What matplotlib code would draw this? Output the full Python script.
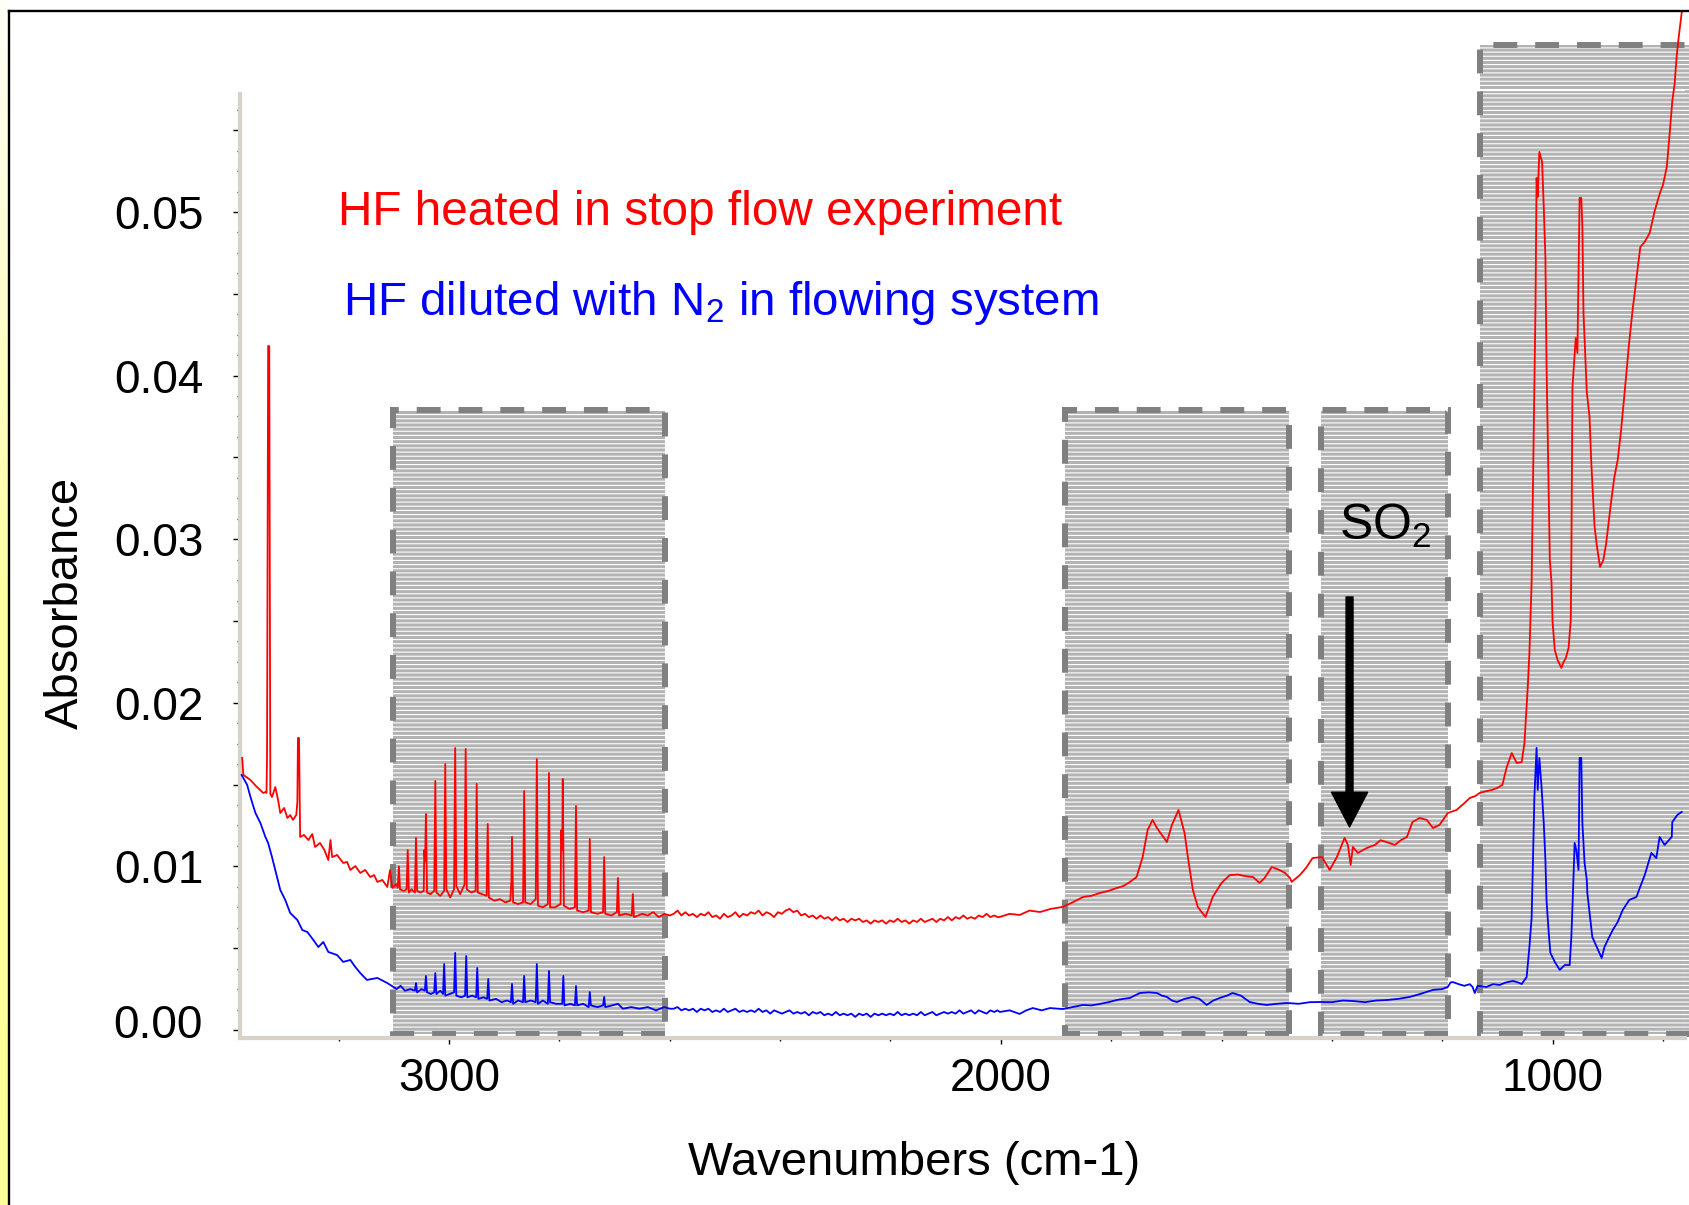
import matplotlib
matplotlib.use("Agg")
import matplotlib.pyplot as plt
import numpy as np
from matplotlib.patches import Rectangle
from matplotlib.lines import Line2D
from matplotlib.ticker import FixedLocator, FuncFormatter
from matplotlib.colors import LinearSegmentedColormap

plt.rcParams['font.family'] = ['Liberation Sans', 'DejaVu Sans']
plt.rcParams['mathtext.fontset'] = 'custom'
plt.rcParams['mathtext.rm'] = 'Liberation Sans'
plt.rcParams['mathtext.it'] = 'Liberation Sans:italic'
plt.rcParams['hatch.linewidth'] = 0.8

# ---- spectra: (wavenumber cm-1, absorbance) ----
red_start = [
    (3375, 0.01663), (3373, 0.01559), (3360, 0.01528), (3350, 0.01491), (3337, 0.01449),
    (3332, 0.01455), (3331, 0.01449), (3330, 0.01669), (3328, 0.04181), (3326, 0.04180),
    (3324, 0.01443), (3321, 0.01424), (3315, 0.01485), (3310, 0.01406), (3306, 0.01326),
    (3299, 0.01357), (3293, 0.01296), (3288, 0.01314), (3283, 0.01284), (3277, 0.01314),
    (3275, 0.01394), (3274, 0.01785), (3272, 0.01785), (3270, 0.01180), (3263, 0.01192),
    (3255, 0.01161), (3248, 0.01198), (3243, 0.01119), (3234, 0.01143), (3226, 0.01100),
    (3219, 0.01039), (3215, 0.01161), (3212, 0.01057), (3203, 0.01070), (3192, 0.01021),
    (3185, 0.01027), (3179, 0.00978), (3170, 0.01002), (3161, 0.00960), (3152, 0.00978),
    (3143, 0.00935), (3136, 0.00947), (3130, 0.00905), (3121, 0.00917), (3112, 0.00874),
    (3107, 0.00978), (3103, 0.00868), (3096, 0.00892),
]
red_hf_lines = [
    (3093, 0.0087), (3091, 0.0100), (3089, 0.0086), (3082, 0.0085), (3077, 0.0086),
    (3075, 0.0110), (3073, 0.0084), (3068, 0.0086), (3062, 0.0084), (3060, 0.01174),
    (3058, 0.0085), (3052, 0.0084), (3046, 0.0085), (3045, 0.0110), (3043.5, 0.0103),
    (3042, 0.0132), (3040, 0.0084), (3034, 0.0083), (3027, 0.0085), (3025, 0.01522),
    (3023, 0.0084), (3016, 0.0082), (3009, 0.0085), (3007, 0.01626), (3005, 0.0086),
    (2998, 0.0081), (2991, 0.0086), (2989, 0.01724), (2987, 0.0088), (2980, 0.0083),
    (2972, 0.0089), (2970, 0.01718), (2968, 0.0086), (2960, 0.0084), (2952, 0.0085),
    (2950, 0.01504), (2948, 0.0084), (2940, 0.0083), (2932, 0.0082), (2930, 0.01259),
    (2928, 0.0081), (2918, 0.0079), (2908, 0.0080), (2898, 0.0078), (2889, 0.0079),
    (2887, 0.0092), (2886, 0.0118), (2884, 0.0078), (2875, 0.0077), (2866, 0.0078),
    (2864, 0.01461), (2862, 0.0078), (2852, 0.0077), (2843, 0.0080), (2841, 0.01656),
    (2839, 0.0076), (2830, 0.0075), (2821, 0.0077), (2819, 0.01571), (2817, 0.0075),
    (2808, 0.0075), (2798, 0.0077), (2797, 0.0122), (2795, 0.0110), (2794, 0.01534),
    (2792, 0.0076), (2782, 0.0074), (2772, 0.0075), (2770, 0.01369), (2768, 0.0073),
    (2757, 0.0072), (2747, 0.0073), (2745, 0.01167), (2743, 0.0072), (2731, 0.0071),
    (2721, 0.0072), (2719, 0.01057), (2717, 0.0071), (2706, 0.0070), (2696, 0.0072),
    (2694, 0.00929), (2692, 0.0070), (2680, 0.0071), (2669, 0.0070), (2667, 0.00831),
    (2665, 0.0069), (2650, 0.0071), (2640, 0.0070), (2630, 0.0072), (2620, 0.0069),
    (2610, 0.0071), (2600, 0.0070),
]
red_middle = [
    (2593, 0.0071), (2586, 0.0073), (2579, 0.0070), (2572, 0.0072), (2565, 0.0070),
    (2558, 0.0071), (2551, 0.0069), (2544, 0.0071), (2537, 0.0070), (2530, 0.0072),
    (2523, 0.0069), (2516, 0.0070), (2509, 0.0068), (2502, 0.0071), (2495, 0.0069),
    (2488, 0.0070), (2481, 0.0072), (2474, 0.0069), (2467, 0.0071), (2460, 0.0070),
    (2453, 0.0072), (2446, 0.0071), (2439, 0.0073), (2432, 0.0070), (2425, 0.0072),
    (2418, 0.0071), (2411, 0.0069), (2404, 0.0072), (2397, 0.0071), (2390, 0.0073),
    (2383, 0.0074), (2376, 0.0072), (2369, 0.0073), (2362, 0.0070), (2355, 0.0071),
    (2348, 0.0069), (2341, 0.0070), (2334, 0.0068), (2327, 0.0070), (2320, 0.0068),
    (2313, 0.0069), (2306, 0.0067), (2299, 0.0069), (2292, 0.0067), (2285, 0.0068),
    (2278, 0.0066), (2271, 0.0068), (2264, 0.0067), (2257, 0.0068), (2250, 0.0066),
    (2243, 0.0067), (2236, 0.0065), (2229, 0.0067), (2222, 0.0066), (2215, 0.0067),
    (2208, 0.0065), (2201, 0.0067), (2194, 0.0066), (2187, 0.0068), (2180, 0.0066),
    (2173, 0.0067), (2166, 0.0065), (2159, 0.0067), (2152, 0.0066), (2145, 0.0068),
    (2138, 0.0066), (2131, 0.0067), (2124, 0.0068), (2117, 0.0066), (2110, 0.0068),
    (2103, 0.0067), (2096, 0.0069), (2089, 0.0067), (2082, 0.0069), (2075, 0.0068),
    (2068, 0.0070), (2061, 0.0068), (2054, 0.0069), (2047, 0.0068), (2040, 0.0070),
    (2033, 0.0069), (2026, 0.0071), (2019, 0.0069), (2012, 0.0070), (2006, 0.0069),
]
red_so2_region = [
    (2002, 0.00691), (1984, 0.0071), (1966, 0.00703), (1948, 0.0073), (1929, 0.00721),
    (1910, 0.0074), (1888, 0.00752), (1870, 0.0078), (1851, 0.00813), (1836, 0.0082),
    (1821, 0.00837), (1805, 0.0085), (1790, 0.00868), (1778, 0.0088), (1766, 0.00905),
    (1754, 0.00935), (1743, 0.01057), (1734, 0.01222), (1725, 0.01284), (1718, 0.0124),
    (1712, 0.0121), (1699, 0.01149), (1690, 0.01253), (1678, 0.01345), (1667, 0.01204),
    (1661, 0.01057), (1652, 0.00856), (1643, 0.00752), (1636, 0.0072), (1629, 0.00691),
    (1616, 0.00813), (1600, 0.00899), (1585, 0.00947), (1570, 0.0095), (1556, 0.0094),
    (1543, 0.00935), (1531, 0.00899), (1522, 0.00929), (1509, 0.00996), (1495, 0.00978),
    (1485, 0.0096), (1476, 0.00929), (1473, 0.00905), (1458, 0.00947), (1447, 0.0099),
    (1435, 0.01051), (1418, 0.01057), (1404, 0.00978), (1391, 0.01057), (1377, 0.01174),
    (1371, 0.01131), (1366, 0.01009), (1362, 0.01119), (1353, 0.01082), (1337, 0.01112),
    (1322, 0.01131), (1312, 0.0116), (1301, 0.01149), (1286, 0.01131), (1275, 0.0116),
    (1264, 0.0118), (1254, 0.01271), (1241, 0.01296), (1228, 0.01284), (1217, 0.01235),
    (1205, 0.01253), (1190, 0.01326),
]
red_low_wn = [
    (1174, 0.01345), (1162, 0.0138), (1150, 0.01418), (1140, 0.0143), (1132, 0.01449),
    (1120, 0.0146), (1110, 0.01467), (1100, 0.0148), (1091, 0.01498), (1083, 0.01608),
    (1074, 0.01693), (1065, 0.01632), (1056, 0.01638), (1051, 0.01754), (1045, 0.02097),
    (1042, 0.02304), (1038, 0.02738), (1031, 0.04419), (1029, 0.05208), (1027, 0.05092),
    (1024, 0.05367), (1019, 0.05306), (1016, 0.05031), (1013, 0.04719), (1011, 0.04077),
    (1005, 0.02873), (1002, 0.02738), (1000, 0.02494), (996, 0.02323), (991, 0.02262),
    (984, 0.02213), (980, 0.0225), (976, 0.02274), (971, 0.02335), (967, 0.02506),
    (966, 0.02873), (964, 0.0393), (958, 0.0423), (955, 0.04138), (951, 0.05086),
    (948, 0.05086), (946, 0.04908), (944, 0.04383), (940, 0.04065), (938, 0.0390),
    (933, 0.03747), (930, 0.03478), (924, 0.03081), (920, 0.02965), (914, 0.0283),
    (908, 0.02873), (903, 0.02971), (894, 0.03227), (888, 0.0338), (882, 0.03484),
    (876, 0.03661), (871, 0.03839), (866, 0.04022), (862, 0.04175), (855, 0.04401),
    (848, 0.04591), (841, 0.04786), (833, 0.04817), (824, 0.04872), (815, 0.05006),
    (806, 0.0511), (800, 0.05165), (793, 0.05275), (788, 0.05471), (783, 0.05679),
    (779, 0.05777), (775, 0.05954), (772, 0.06052), (766, 0.06218),
]

blue_start = [
    (3376, 0.01559), (3366, 0.01498), (3360, 0.01424), (3351, 0.01326), (3342, 0.01265),
    (3333, 0.01180), (3328, 0.01143), (3321, 0.01057), (3312, 0.00935), (3306, 0.00856),
    (3297, 0.00795), (3288, 0.00715), (3275, 0.00672), (3266, 0.00611), (3257, 0.00599),
    (3246, 0.00550), (3237, 0.00507), (3228, 0.00538), (3219, 0.00477), (3203, 0.00458),
    (3192, 0.00416), (3179, 0.00428), (3170, 0.00385), (3161, 0.00348), (3149, 0.00306),
    (3130, 0.00318), (3112, 0.00287), (3101, 0.00263),
]
blue_hf_lines = [
    (3095, 0.0025), (3088, 0.0027), (3080, 0.0024), (3070, 0.0025), (3062, 0.0024),
    (3060, 0.00287), (3058, 0.0023), (3050, 0.0025), (3044, 0.0024), (3042, 0.0033),
    (3040, 0.0023), (3033, 0.0022), (3027, 0.0023), (3025, 0.00348), (3023, 0.0022),
    (3016, 0.0024), (3011, 0.0022), (3009, 0.00403), (3007, 0.0021), (2999, 0.0022),
    (2991, 0.0023), (2989, 0.00471), (2987, 0.0021), (2978, 0.0020), (2971, 0.0021),
    (2969, 0.00452), (2967, 0.0020), (2958, 0.0021), (2951, 0.0020), (2949, 0.00379),
    (2947, 0.0019), (2938, 0.0020), (2931, 0.0019), (2929, 0.00312), (2927, 0.0018),
    (2915, 0.0019), (2905, 0.0017), (2895, 0.0018), (2888, 0.0017), (2886, 0.00281),
    (2884, 0.0016), (2875, 0.0018), (2866, 0.0017), (2864, 0.0033), (2862, 0.0017),
    (2852, 0.0018), (2843, 0.0017), (2841, 0.00403), (2839, 0.0016), (2830, 0.0018),
    (2821, 0.0016), (2819, 0.00361), (2817, 0.0017), (2806, 0.0016), (2795, 0.0016),
    (2793, 0.0033), (2791, 0.0015), (2780, 0.0016), (2772, 0.0015), (2770, 0.00269),
    (2768, 0.0015), (2757, 0.0016), (2747, 0.0014), (2745, 0.00232), (2743, 0.0015),
    (2731, 0.0014), (2721, 0.0015), (2719, 0.00202), (2717, 0.0014), (2705, 0.0015),
    (2694, 0.0016), (2685, 0.0013), (2670, 0.0014), (2655, 0.0013), (2640, 0.0014),
    (2625, 0.0012), (2610, 0.0014), (2600, 0.0013),
]
blue_middle = [
    (2593, 0.0013), (2586, 0.0014), (2579, 0.0012), (2572, 0.0013), (2565, 0.0012),
    (2558, 0.0013), (2551, 0.0011), (2544, 0.0013), (2537, 0.0012), (2530, 0.0013),
    (2523, 0.0011), (2516, 0.0012), (2509, 0.0011), (2502, 0.0013), (2495, 0.0011),
    (2488, 0.0012), (2481, 0.0013), (2474, 0.0011), (2467, 0.0012), (2460, 0.0011),
    (2453, 0.0012), (2446, 0.0011), (2439, 0.0013), (2432, 0.0011), (2425, 0.0012),
    (2418, 0.0010), (2411, 0.0012), (2404, 0.0011), (2397, 0.0010), (2390, 0.0011),
    (2383, 0.0012), (2376, 0.0010), (2369, 0.0011), (2362, 0.0010), (2355, 0.0011),
    (2348, 0.0009), (2341, 0.0011), (2334, 0.0010), (2327, 0.0011), (2320, 0.0009),
    (2313, 0.0010), (2306, 0.0009), (2299, 0.0011), (2292, 0.0009), (2285, 0.0010),
    (2278, 0.0009), (2271, 0.0010), (2264, 0.0008), (2257, 0.0010), (2250, 0.0009),
    (2243, 0.0010), (2236, 0.0008), (2229, 0.0010), (2222, 0.0009), (2215, 0.0010),
    (2208, 0.0009), (2201, 0.0010), (2194, 0.0009), (2187, 0.0011), (2180, 0.0009),
    (2173, 0.0010), (2166, 0.0009), (2159, 0.0010), (2152, 0.0009), (2145, 0.0011),
    (2138, 0.0009), (2131, 0.0010), (2124, 0.0011), (2117, 0.0009), (2110, 0.0010),
    (2103, 0.0011), (2096, 0.0010), (2089, 0.0011), (2082, 0.0010), (2075, 0.0012),
    (2068, 0.0010), (2061, 0.0011), (2054, 0.0012), (2047, 0.0010), (2040, 0.0012),
    (2033, 0.0011), (2026, 0.0010), (2019, 0.0012), (2012, 0.0011), (2006, 0.0012),
]
blue_so2_region = [
    (2002, 0.0011), (1984, 0.0012), (1966, 0.00098), (1954, 0.0012), (1942, 0.00134),
    (1926, 0.0012), (1911, 0.00134), (1888, 0.00128), (1870, 0.0014), (1851, 0.00153),
    (1836, 0.0015), (1821, 0.00159), (1805, 0.0017), (1790, 0.00183), (1778, 0.0019),
    (1766, 0.00196), (1748, 0.00226), (1732, 0.0023), (1717, 0.00226), (1708, 0.0021),
    (1699, 0.00202), (1690, 0.0018), (1681, 0.00171), (1667, 0.0019), (1652, 0.00202),
    (1640, 0.0019), (1627, 0.00153), (1615, 0.0018), (1603, 0.00196), (1590, 0.0021),
    (1580, 0.00226), (1565, 0.0021), (1549, 0.00171), (1534, 0.0016), (1518, 0.00153),
    (1500, 0.0016), (1482, 0.00165), (1460, 0.0016), (1440, 0.0017), (1422, 0.00171),
    (1400, 0.0017), (1380, 0.0018), (1362, 0.00177), (1340, 0.0017), (1320, 0.0018),
    (1301, 0.00183), (1280, 0.0019), (1259, 0.00202), (1240, 0.0022), (1217, 0.00245),
    (1200, 0.0025), (1190, 0.00263),
]
blue_low_wn = [
    (1185, 0.0029), (1181, 0.00293), (1170, 0.0028), (1160, 0.0027), (1150, 0.0028),
    (1145, 0.00263), (1141, 0.00226), (1136, 0.0027), (1120, 0.00263), (1108, 0.0028),
    (1096, 0.00275), (1085, 0.0029), (1072, 0.0030), (1062, 0.0029), (1056, 0.00281),
    (1047, 0.00324), (1042, 0.00507), (1038, 0.00685), (1036, 0.00966), (1033, 0.01424),
    (1029, 0.01724), (1027, 0.01467), (1024, 0.01663), (1020, 0.01485), (1016, 0.01265),
    (1013, 0.01039), (1011, 0.00795), (1007, 0.00593), (1004, 0.00471), (996, 0.00416),
    (987, 0.00367), (978, 0.00397), (969, 0.00397), (966, 0.00568), (964, 0.00752),
    (960, 0.01143), (957, 0.01100), (953, 0.00978), (951, 0.01663), (948, 0.01663),
    (946, 0.01265), (942, 0.01021), (938, 0.00917), (937, 0.00837), (933, 0.00715),
    (928, 0.00568), (920, 0.00507), (911, 0.00440), (906, 0.00507), (900, 0.00550),
    (891, 0.00611), (882, 0.00660), (873, 0.00733), (861, 0.00795), (848, 0.00813),
    (842, 0.00868), (833, 0.00947), (821, 0.01082), (812, 0.01051), (806, 0.01180),
    (797, 0.01131), (784, 0.01180), (783, 0.01271), (774, 0.01314), (766, 0.01333),
]

# shaded bands: (high wavenumber, low wavenumber, top absorbance)
bands = [(3101, 2609, 0.0379), (1884, 1478, 0.0379), (1420, 1190, 0.0379), (1132, 740, 0.0602)]

red_label = "HF heated in stop flow experiment"
blue_label = "HF diluted with N$_2$ in flowing system"

x_major = [1000, 2000, 3000]
x_minor = [800, 1200, 1400, 1600, 1800, 2200, 2400, 2600, 2800, 3200]
y_major = [0.0, 0.005, 0.01, 0.015, 0.02, 0.025, 0.03, 0.035, 0.04, 0.045, 0.05, 0.055]
y_minor = [i * 0.00125 for i in range(46)]


def unzip(*segments):
    pts = [p for seg in segments for p in seg]
    return np.array([p[0] for p in pts]), np.array([p[1] for p in pts])


red_x, red_y = unzip(red_start, red_hf_lines, red_middle, red_so2_region, red_low_wn)
blue_x, blue_y = unzip(blue_start, blue_hf_lines, blue_middle, blue_so2_region, blue_low_wn)

W, H = 1690, 1205
fig = plt.figure(figsize=(W / 100, H / 100), dpi=100)
fig.patch.set_facecolor('white')

# yellowish strip on the left edge + black frame
strip = fig.add_axes([0, 0, 8 / W, 1])
edge_cmap = LinearSegmentedColormap.from_list('edge', ['#fffff6', '#ffffa0', '#ffff99'])
strip.imshow(np.linspace(0, 1, 200).reshape(-1, 1), aspect='auto', cmap=edge_cmap, extent=[0, 1, 0, 1])
strip.axis('off')
fig.add_artist(Line2D([9.5 / W, 9.5 / W], [0, 1 - 11 / H], transform=fig.transFigure, color='black', lw=1.7))
fig.add_artist(Line2D([9.5 / W, 1], [1 - 11 / H, 1 - 11 / H], transform=fig.transFigure, color='black', lw=1.7))

ax = fig.add_axes([240 / W, 1 - 1038 / H, 1445 / W, 1030.5 / H])
ax.set_facecolor('none')
ax.set_xlim(3379, 760)
ax.set_ylim(-0.00049, 0.0625)

# gray striped bands with dashed outline
for hi, lo, top in bands:
    bottom = -0.00025
    fill = Rectangle((lo, bottom), hi - lo, top - bottom, facecolor='#b3b3b3', edgecolor='white',
                     hatch='----', lw=0, zorder=1, clip_on=False)
    ax.add_patch(fill)
    outline = Rectangle((lo, bottom), hi - lo, top - bottom, fill=False, edgecolor='#808080',
                        lw=4.3, linestyle=(0, (4, 3)), zorder=1.5, clip_on=False)
    ax.add_patch(outline)

# faint white plot-area border of the original
ax.plot([3379, 759, 759], [0.05746, 0.05746, -0.00049], color='white', lw=1.5, zorder=1.8)

ax.plot(red_x, red_y, color='#ff0000', lw=1.3, zorder=3, clip_on=False)
ax.plot(blue_x, blue_y, color='#0000ff', lw=1.3, zorder=3, clip_on=False)

# SO2 arrow and label
ax.annotate('', xy=(1368, 0.01241), xytext=(1368, 0.02647),
            arrowprops=dict(facecolor='black', edgecolor='black', width=5, headwidth=26,
                            headlength=25, shrink=0), zorder=4)
fig.text(1339 / W, 1 - 540 / H, 'SO$_2$', fontsize=36, color='black', ha='left', va='baseline')

fig.text(338 / W, 1 - 225 / H, red_label, fontsize=34.4, color='#ff0000', ha='left', va='baseline')
fig.text(343 / W, 1 - 315 / H, blue_label, fontsize=34.2, color='#0000ff', ha='left', va='baseline')

# axes styling
for s in ['top', 'right']:
    ax.spines[s].set_visible(False)
for s in ['left', 'bottom']:
    ax.spines[s].set_color('#d6d2ca')
    ax.spines[s].set_linewidth(3)
ax.spines['left'].set_bounds(-0.00049, 0.0572)
ax.spines['bottom'].set_bounds(3379, 760)

ax.xaxis.set_major_locator(FixedLocator(x_major))
ax.xaxis.set_minor_locator(FixedLocator(x_minor))
ax.yaxis.set_major_locator(FixedLocator(y_major))
ax.yaxis.set_minor_locator(FixedLocator(y_minor))
ax.xaxis.set_major_formatter(FuncFormatter(lambda v, p: f'{v:.0f}'))
# 0.00 sits a little above its tick in the original, so it is placed separately below
ax.yaxis.set_major_formatter(FuncFormatter(
    lambda v, p: f'{v:.2f}' if v > 0 and abs(v * 100 - round(v * 100)) < 1e-6 else ''))

ax.tick_params(axis='y', which='major', direction='out', length=5, width=1, color='black',
               labelsize=33, pad=21.5)
ax.tick_params(axis='y', which='minor', direction='out', length=2.2, width=1, color='black')
ax.tick_params(axis='x', which='major', direction='out', length=4, width=1, color='black',
               labelsize=33, pad=9.5)
ax.tick_params(axis='x', which='minor', direction='out', length=2.5, width=1, color='black')

fig.text(203 / W, 1 - 1038 / H, '0.00', fontsize=33, ha='right', va='baseline')
fig.text(914.5 / W, 1 - 1175 / H, 'Wavenumbers (cm-1)', fontsize=34, ha='center', va='baseline')
fig.text(78 / W, 1 - 602.5 / H, 'Absorbance', fontsize=34, rotation=90, rotation_mode='anchor',
         ha='center', va='baseline')

fig.savefig('out.png', dpi=100, facecolor='white')
